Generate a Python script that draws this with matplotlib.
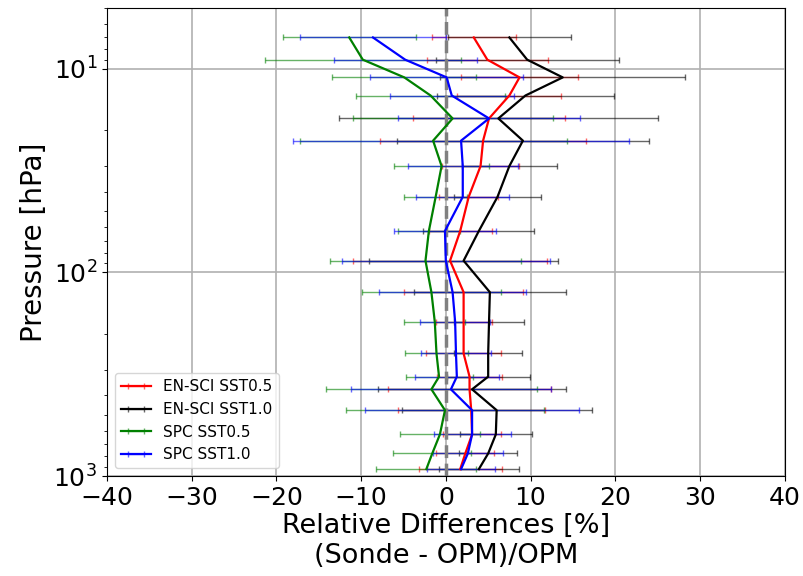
import matplotlib
matplotlib.use("Agg")
import matplotlib.pyplot as plt

pressure = [7, 9, 11, 13.5, 17.5, 22.5, 30, 42.5, 62.5, 87.5, 125,
            175, 250, 325, 375, 475, 625, 775, 925]

en05 = [3.3, 4.9, 8.7, 7.5, 5.1, 4.4, 4.1, 2.7, 1.7, 0.5, 2.1,
        2.1, 2.1, 2.8, 2.8, 3.0, 3.1, 2.3, 1.7]
en05_err = [4.95, 7.15, 6.95, 6.15, 8.95, 12.15, 4.55, 3.5, 3.7, 11.5, 7.05,
            3.3, 4.45, 3.8, 9.65, 8.7, 3.4, 3.4, 4.9]

en10 = [7.5, 9.6, 13.8, 9.4, 6.2, 9.1, 7.5, 6.1, 3.9, 2.1, 5.2,
        5.1, 5.0, 5.0, 3.1, 6.0, 5.9, 5.0, 3.9]
en10_err = [7.25, 10.8, 14.45, 10.45, 18.8, 14.9, 5.6, 5.1, 6.55, 11.2, 8.95,
            4.1, 4.05, 4.9, 11.1, 11.2, 4.25, 3.45, 4.75]

spc05 = [-11.4, -9.8, -4.9, -1.8, 0.8, -1.5, -0.5, -1.2, -2.0, -2.4, -1.7,
         -1.3, -1.1, -0.8, -1.7, -0.1, -0.7, -1.6, -2.3]
spc05_err = [7.85, 11.6, 8.5, 8.8, 11.8, 15.75, 5.65, 3.7, 3.7, 11.3, 8.2,
             3.6, 3.7, 3.95, 12.5, 11.7, 4.7, 4.6, 5.9]

spc10 = [-8.6, -4.8, 0.1, 0.7, 5.1, 1.8, 2.0, 2.0, -0.1, 0.0, 0.8,
         1.1, 1.2, 1.3, 0.6, 3.1, 3.1, 2.6, 1.8]
spc10_err = [8.65, 8.45, 9.05, 7.3, 10.75, 19.85, 6.5, 5.5, 6.0, 12.25, 8.7,
             4.1, 4.15, 4.95, 11.85, 12.65, 4.55, 4.1, 4.05]

series = [
    ("EN-SCI SST0.5", en05, en05_err, "red"),
    ("EN-SCI SST1.0", en10, en10_err, "black"),
    ("SPC SST0.5", spc05, spc05_err, "green"),
    ("SPC SST1.0", spc10, spc10_err, "blue"),
]

fig = plt.figure(figsize=(8.04, 5.76), dpi=100)
ax = fig.add_axes([0.133, 0.1736, 0.843, 0.813])

for label, vals, err, col in series:
    eb = ax.errorbar(vals, pressure, xerr=err, color=col, label=label,
                     linewidth=1.6, elinewidth=1.0, capsize=2, capthick=1.0)
    for c in eb[1]:
        c.set_alpha(0.6)
    for c in eb[2]:
        c.set_alpha(0.6)

ax.axvline(0, color="gray", linestyle="--", linewidth=2.5)

ax.set_yscale("log")
ax.set_ylim(1000, 5)
ax.set_xlim(-40, 40)
ax.set_xticks(range(-40, 41, 10))
ax.grid(True, color="#b0b0b0", linewidth=1.2)
ax.tick_params(labelsize=18)
ax.set_ylabel("Pressure [hPa]", fontsize=20)
ax.set_xlabel("Relative Differences [%]\n(Sonde - OPM)/OPM", fontsize=19.5,
              linespacing=1.2, labelpad=2)
ax.legend(loc="lower left", fontsize=11)

fig.savefig("out.png", dpi=100)
